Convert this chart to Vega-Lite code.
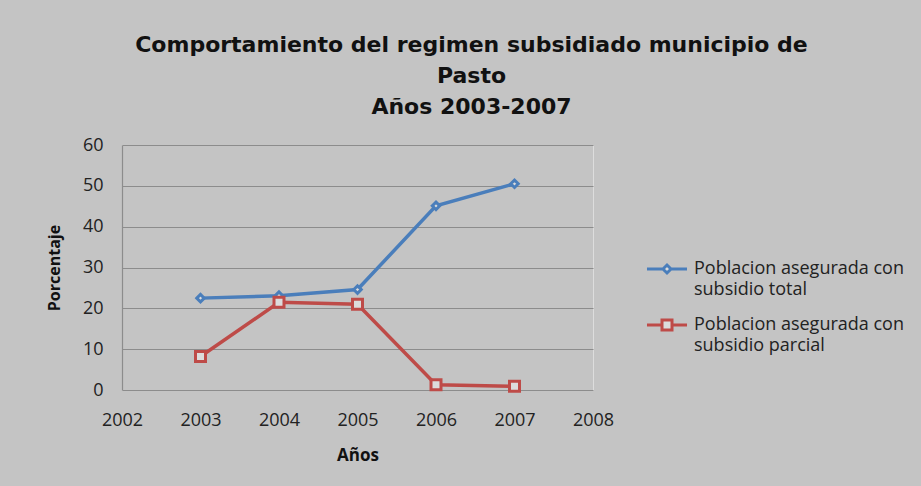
{
  "$schema": "https://vega.github.io/schema/vega-lite/v6.json",
  "width": 471,
  "height": 245,
  "autosize": {"type": "none"},
  "padding": {"left": 122, "top": 145, "right": 328, "bottom": 96},
  "background": "#c4c4c4",
  "title": {
    "text": ["Comportamiento del regimen subsidiado municipio de", "Pasto", "Años 2003-2007"],
    "font": "DejaVu Sans",
    "fontSize": 22,
    "fontWeight": "bold",
    "color": "#111111",
    "lineHeight": 31,
    "anchor": "middle",
    "frame": "group",
    "dx": 114,
    "offset": 17
  },
  "data": {
    "values": [
      {"year": 2003, "value": 22.5, "series": "Poblacion asegurada con subsidio total"},
      {"year": 2004, "value": 23.1, "series": "Poblacion asegurada con subsidio total"},
      {"year": 2005, "value": 24.6, "series": "Poblacion asegurada con subsidio total"},
      {"year": 2006, "value": 45.1, "series": "Poblacion asegurada con subsidio total"},
      {"year": 2007, "value": 50.5, "series": "Poblacion asegurada con subsidio total"},
      {"year": 2003, "value": 8.2, "series": "Poblacion asegurada con subsidio parcial"},
      {"year": 2004, "value": 21.5, "series": "Poblacion asegurada con subsidio parcial"},
      {"year": 2005, "value": 21.0, "series": "Poblacion asegurada con subsidio parcial"},
      {"year": 2006, "value": 1.3, "series": "Poblacion asegurada con subsidio parcial"},
      {"year": 2007, "value": 0.9, "series": "Poblacion asegurada con subsidio parcial"}
    ]
  },
  "encoding": {
    "x": {
      "field": "year", "type": "quantitative",
      "scale": {"domain": [2002, 2008], "nice": false, "zero": false},
      "axis": {
        "title": "Años", "values": [2002, 2003, 2004, 2005, 2006, 2007, 2008], "format": "d",
        "grid": false, "ticks": false, "domain": false, "labelFlush": false,
        "labelFont": "Open Sans", "labelFontSize": 18, "labelColor": "#222222", "labelPadding": 21,
        "titleFont": "Open Sans", "titleFontSize": 17, "titleFontWeight": "bold", "titleColor": "#111111", "titlePadding": 18
      }
    },
    "y": {
      "field": "value", "type": "quantitative",
      "scale": {"domain": [0, 60], "nice": false},
      "axis": {
        "title": "Porcentaje", "values": [0, 10, 20, 30, 40, 50, 60],
        "grid": true, "gridColor": "#8c8c8c", "gridWidth": 1.2, "gridOpacity": 1,
        "ticks": false, "domain": true, "domainColor": "#8c8c8c", "domainWidth": 1.2,
        "labelFont": "Open Sans", "labelFontSize": 18, "labelColor": "#222222", "labelPadding": 19,
        "titleFont": "Open Sans", "titleFontSize": 16, "titleFontWeight": "bold", "titleColor": "#111111", "titlePadding": 20
      }
    },
    "color": {
      "field": "series", "type": "nominal",
      "scale": {"domain": ["Poblacion asegurada con subsidio total", "Poblacion asegurada con subsidio parcial"], "range": ["#4a7ebb", "#be4b48"]},
      "legend": {
        "title": null, "orient": "none", "legendX": 535, "legendY": 114,
        "symbolSize": 278, "symbolStrokeWidth": 3, "symbolFillColor": "#dcdcdc", "symbolType": "circle",
        "labelFont": "Open Sans", "labelFontSize": 18, "labelColor": "#222222", "labelOffset": 17,
        "labelExpr": "[slice(datum.label, 0, 23), slice(datum.label, 24)]",
        "labelLimit": 300, "rowPadding": 14,
        "encode": {
          "symbols": {
            "update": {
              "shape": {"signal": "datum.value == 'Poblacion asegurada con subsidio total' ? 'M-2.4,0H-0.48M0.48,0H2.4M-0.48,0L0,-0.48L0.48,0L0,0.48Z' : 'M-2.4,0H-0.6M0.6,0H2.4M-0.6,-0.6H0.6V0.6H-0.6Z'"},
              "fill": {"value": "#dcdcdc"},
              "strokeWidth": {"value": 3}
            }
          },
          "labels": {
            "update": {
              "lineHeight": {"value": 21}
            }
          }
        }
      }
    }
  },
  "layer": [
    {
      "mark": {"type": "line", "strokeWidth": 3.5}
    },
    {
      "transform": [{"filter": "datum.series == 'Poblacion asegurada con subsidio total'"}],
      "mark": {"type": "point", "shape": "diamond", "size": 55, "filled": false, "fill": "#dcdcdc", "fillOpacity": 1, "strokeWidth": 3, "opacity": 1}
    },
    {
      "transform": [{"filter": "datum.series == 'Poblacion asegurada con subsidio parcial'"}],
      "mark": {"type": "point", "shape": "square", "size": 100, "filled": false, "fill": "#dcdcdc", "fillOpacity": 1, "strokeWidth": 3, "opacity": 1}
    }
  ]
}
